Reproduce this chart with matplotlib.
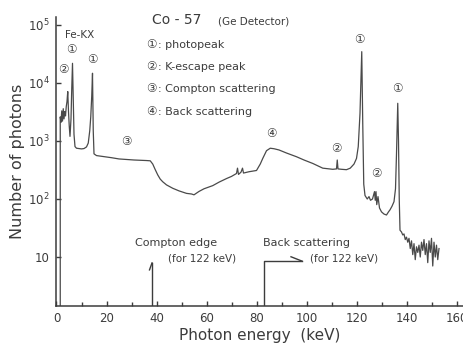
import matplotlib
matplotlib.use("Agg")
import matplotlib.pyplot as plt
from matplotlib.ticker import FixedLocator, MultipleLocator, FixedFormatter

# Co-57 gamma spectrum measured with a Ge detector
energy_keV = [
    1.5, 1.5, 1.8, 2.1, 2.4, 2.7, 3.0, 3.3, 3.6, 3.9, 4.2, 4.5, 4.8, 5.1, 5.4,
    5.8, 6.1, 6.4, 6.7, 7.0, 7.4, 8.0, 9.0, 10.0, 11.0, 12.0, 12.7, 13.3, 13.7,
    14.1, 14.4, 14.7, 15.0, 16.0, 18.0, 20.0, 22.0, 25.0, 28.0, 31.0, 34.0,
    36.0, 37.5, 38.5, 39.5, 40.5, 41.5, 42.5, 44.0, 46.5, 49.0, 52.0, 54.0,
    55.0, 57.0, 59.0, 62.5, 65.0, 68.0, 70.0, 72.0, 72.4, 72.8, 73.8, 74.4,
    74.8, 77.0, 80.0, 81.5, 82.5, 84.0, 85.5, 87.0, 89.0, 92.0, 96.0, 99.0,
    102.5, 106.5, 110.5, 112.0, 112.3, 112.6, 114.0, 116.0, 117.5, 119.0,
    120.0, 120.7, 121.4, 121.8, 122.1, 122.5, 122.9, 123.4, 124.3, 125.0,
    125.6, 126.4, 127.2, 127.5, 127.8, 128.1, 128.6, 129.2, 130.0, 131.0,
    132.0, 132.8, 133.4, 134.2, 135.0, 135.6, 136.0, 136.3, 136.5, 136.8,
    137.1, 137.4, 138.0, 138.5, 139.0, 139.5, 140.0, 140.5, 141.0, 141.5,
    142.0, 142.5, 143.0, 143.5, 144.0, 144.5, 145.0, 145.5, 146.0, 146.5,
    147.0, 147.5, 148.0, 148.5, 149.0, 149.5, 150.0, 150.5, 151.0, 151.5,
    152.0, 152.5, 153.0,
]
photon_counts = [
    1.46, 2600, 2100, 3300, 2200, 3600, 2400, 3200, 2700, 3900, 4800, 7100,
    3200, 1800, 1200, 2400, 8000, 21800, 5000, 1300, 800, 750, 740, 730, 740,
    790, 920, 1500, 2600, 6000, 14700, 1500, 600, 560, 545, 530, 515, 490,
    480, 470, 465, 460, 455, 400, 320, 260, 220, 198, 175, 153, 138, 125,
    122, 118, 135, 150, 170, 195, 225, 245, 275, 340, 265, 290, 340, 280,
    295, 310, 400, 500, 680, 750, 735, 700, 620, 535, 470, 410, 340, 325,
    330, 470, 330, 325, 320, 340, 400, 500, 800, 3000, 12000, 34600, 2000,
    180, 115, 100, 110, 95, 100, 134, 95, 134, 80, 110, 70, 60, 55, 53, 60,
    65, 75, 90, 150, 600, 2000, 4460, 1000, 100, 29, 27, 24, 25, 20, 22, 18,
    21, 14, 19, 11, 17, 9, 15, 12, 16, 10, 18, 13, 20, 11, 17, 8, 19, 12,
    21, 7, 18, 10, 16, 9, 14,
]

x_ticks = [0, 20, 40, 60, 80, 100, 120, 140, 160]
y_ticks = [10, 1e2, 1e3, 1e4, 1e5]
y_tick_labels = ["10", "$10^2$", "$10^3$", "$10^4$", "$10^5$"]

compton_edge_keV = 38.2
back_scatter_keV = 83.0

INK = "#3c3c3c"
SYM = ["DejaVu Sans", "Noto Sans CJK JP"]

W, H = 464, 343
fig = plt.figure(figsize=(W / 100, H / 100), dpi=100)
ax = fig.add_axes([56.5 / W, 1 - 305.5 / H, (463 - 56.5) / W, (305.5 - 17) / H])


def at(px, py):
    return px / W, 1 - py / H


ax.plot(energy_keV, photon_counts, color="#4a4a4a", lw=0.9)
ax.set_yscale("log")
ax.set_xlim(0, 162.6)
ax.set_ylim(1.46, 1.37e5)

for side in ("top", "right"):
    ax.spines[side].set_visible(False)
for side in ("left", "bottom"):
    ax.spines[side].set_color(INK)
    ax.spines[side].set_linewidth(1.1)

ax.xaxis.set_major_locator(FixedLocator(x_ticks))
ax.xaxis.set_minor_locator(MultipleLocator(10))
ax.yaxis.set_major_locator(FixedLocator(y_ticks))
ax.yaxis.set_major_formatter(FixedFormatter(y_tick_labels))
ax.yaxis.set_minor_locator(FixedLocator([]))
ax.tick_params(axis="both", which="both", direction="in", color=INK,
               labelcolor=INK, labelsize=8.5, width=1.0)
ax.tick_params(axis="both", which="major", length=3.5, pad=5)
ax.tick_params(axis="x", which="minor", length=3)

ax.set_xlabel("Photon energy  (keV)", fontsize=11, color=INK, labelpad=2)
ax.set_ylabel("Number of photons", fontsize=11.5, color=INK, labelpad=2)

# Compton edge marker
ybot = ax.get_ylim()[0]
ax.plot([compton_edge_keV, compton_edge_keV], [ybot, 7.9], color=INK, lw=1.0)
ax.plot([compton_edge_keV - 1.0, compton_edge_keV], [6.0, 7.9], color=INK, lw=1.0)
ax.text(31.4, 17.4, "Compton edge", fontsize=8, color=INK,
        ha="left", va="center")
ax.text(44.6, 9.6, "(for 122 keV)", fontsize=7.5, color=INK,
        ha="left", va="center")

# Back-scattering marker
ax.plot([back_scatter_keV, back_scatter_keV, 98.2],
        [ybot, 8.5, 8.5], color=INK, lw=1.0)
ax.plot([93.8, 98.2], [10.1, 8.5], color=INK, lw=1.0)
ax.text(82.6, 17.4, "Back scattering", fontsize=8, color=INK,
        ha="left", va="center")
ax.text(101.4, 9.6, "(for 122 keV)", fontsize=7.5, color=INK,
        ha="left", va="center")

# Peak tags
ax.text(3.2, 67000, "Fe-KX", fontsize=7.5, color=INK, ha="left", va="center")
tags = [
    (5.9, 37000, "①"), (2.9, 16800, "②"), (14.5, 24900, "①"),
    (27.9, 975, "③"), (85.9, 1360, "④"), (111.9, 748, "②"),
    (121.2, 56600, "①"), (136.5, 8100, "①"), (127.9, 277, "②"),
]
for ex, cy, s in tags:
    ax.text(ex, cy, s, fontsize=8.5, color=INK, ha="center", va="center",
            family=SYM)

# Title block and key
fig.text(*at(152, 20), "Co - 57", fontsize=10, color=INK, ha="left", va="center")
fig.text(*at(218, 21), "(Ge Detector)", fontsize=7.5, color=INK, ha="left",
         va="center")
key = [
    (45, "①", "photopeak"),
    (67, "②", "K-escape peak"),
    (89, "③", "Compton scattering"),
    (112, "④", "Back scattering"),
]
for py, sym, label in key:
    fig.text(*at(146, py), sym, fontsize=8.5, color=INK, ha="left",
             va="center", family=SYM)
    fig.text(*at(158, py), ": " + label, fontsize=8, color=INK, ha="left",
             va="center")

fig.savefig("out.png", dpi=100)
